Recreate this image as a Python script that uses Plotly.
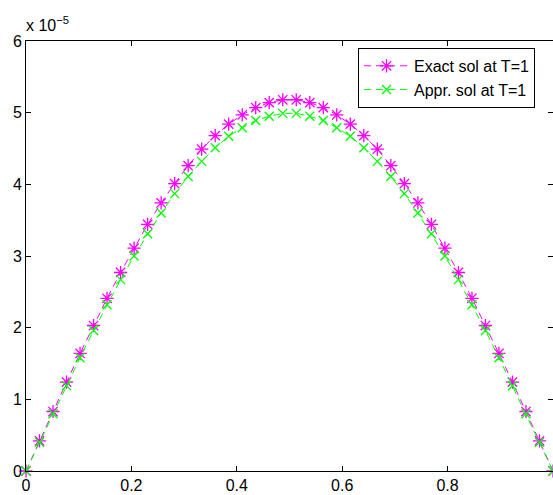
import plotly.graph_objects as go

# x grid (40 nodes on [0,1])
x_vals = [0.0, 0.0256, 0.0513, 0.0769, 0.1026, 0.1282, 0.1538, 0.1795, 0.2051, 0.2308,
          0.2564, 0.2821, 0.3077, 0.3333, 0.3590, 0.3846, 0.4103, 0.4359, 0.4615, 0.4872,
          0.5128, 0.5385, 0.5641, 0.5897, 0.6154, 0.6410, 0.6667, 0.6923, 0.7179, 0.7436,
          0.7692, 0.7949, 0.8205, 0.8462, 0.8718, 0.8974, 0.9231, 0.9487, 0.9744, 1.0]

# values in units of 1e-5
exact_vals = [0.0, 0.42, 0.83, 1.24, 1.64, 2.03, 2.41, 2.77, 3.11, 3.44,
              3.74, 4.01, 4.26, 4.49, 4.68, 4.84, 4.97, 5.07, 5.14, 5.18,
              5.18, 5.14, 5.07, 4.97, 4.84, 4.68, 4.49, 4.26, 4.01, 3.74,
              3.44, 3.11, 2.77, 2.41, 2.03, 1.64, 1.24, 0.83, 0.42, 0.0]
appr_vals = [0.0, 0.40, 0.80, 1.19, 1.58, 1.96, 2.32, 2.67, 3.00, 3.31,
             3.60, 3.87, 4.11, 4.32, 4.51, 4.67, 4.79, 4.89, 4.95, 4.99,
             4.99, 4.95, 4.89, 4.79, 4.67, 4.51, 4.32, 4.11, 3.87, 3.60,
             3.31, 3.00, 2.67, 2.32, 1.96, 1.58, 1.19, 0.80, 0.40, 0.0]

series_names = ["Exact sol at T=1", "Appr. sol at T=1"]
x_ticks = [0, 0.2, 0.4, 0.6, 0.8, 1]
x_tick_labels = ["0", "0.2", "0.4", "0.6", "0.8", "1"]
y_ticks = [0, 1, 2, 3, 4, 5, 6]
y_tick_labels = ["0", "1", "2", "3", "4", "5", "6"]

FONT = "Liberation Sans, Arial, Helvetica, sans-serif"

fig = go.Figure()
fig.add_trace(go.Scatter(
    x=x_vals, y=exact_vals, name=series_names[0], mode="lines+markers",
    legendgroup="a",
    line=dict(color="#ff00ff", width=1, dash="7px,5px"),
    marker=dict(symbol="asterisk-open", size=11, color="#ff00ff",
                line=dict(color="#ff00ff", width=1.3)),
    cliponaxis=False,
))
fig.add_trace(go.Scatter(
    x=x_vals, y=appr_vals, name=series_names[1], mode="lines+markers",
    legendgroup="b",
    line=dict(color="#00ff00", width=1, dash="7px,5px"),
    marker=dict(symbol="x-thin-open", size=9, color="#00ff00",
                line=dict(color="#00ff00", width=1.3)),
    cliponaxis=False,
))

axis_common = dict(
    showgrid=False, zeroline=False, showline=True, linecolor="black", linewidth=1,
    mirror="ticks", ticks="inside", ticklen=5, tickcolor="black", tickwidth=1,
    tickfont=dict(family=FONT, size=16, color="black"), automargin=False,
)

fig.update_layout(
    width=553, height=495,
    margin=dict(l=26, r=0, t=41, b=24),
    paper_bgcolor="white", plot_bgcolor="white",
    showlegend=True,
    legend=dict(
        x=0.63, y=0.984, xanchor="left", yanchor="top",
        bgcolor="white", bordercolor="black", borderwidth=1,
        font=dict(family=FONT, size=16, color="black"),
        itemwidth=45, tracegroupgap=2, traceorder="normal",
    ),
    xaxis=dict(range=[0, 1], tickvals=x_ticks, ticktext=x_tick_labels, **axis_common),
    yaxis=dict(range=[0, 6], tickvals=y_ticks, ticktext=y_tick_labels, **axis_common),
    annotations=[dict(
        text="x 10<sup>\u22125</sup>", xref="paper", yref="paper", x=0, y=1,
        xanchor="left", yanchor="bottom", yshift=5, xshift=-2, showarrow=False,
        font=dict(family=FONT, size=16, color="black"),
    )],
)

fig.write_html("out.html", config={"displayModeBar": False},
               post_script="document.body.style.margin='0';document.body.style.overflow='hidden';")
